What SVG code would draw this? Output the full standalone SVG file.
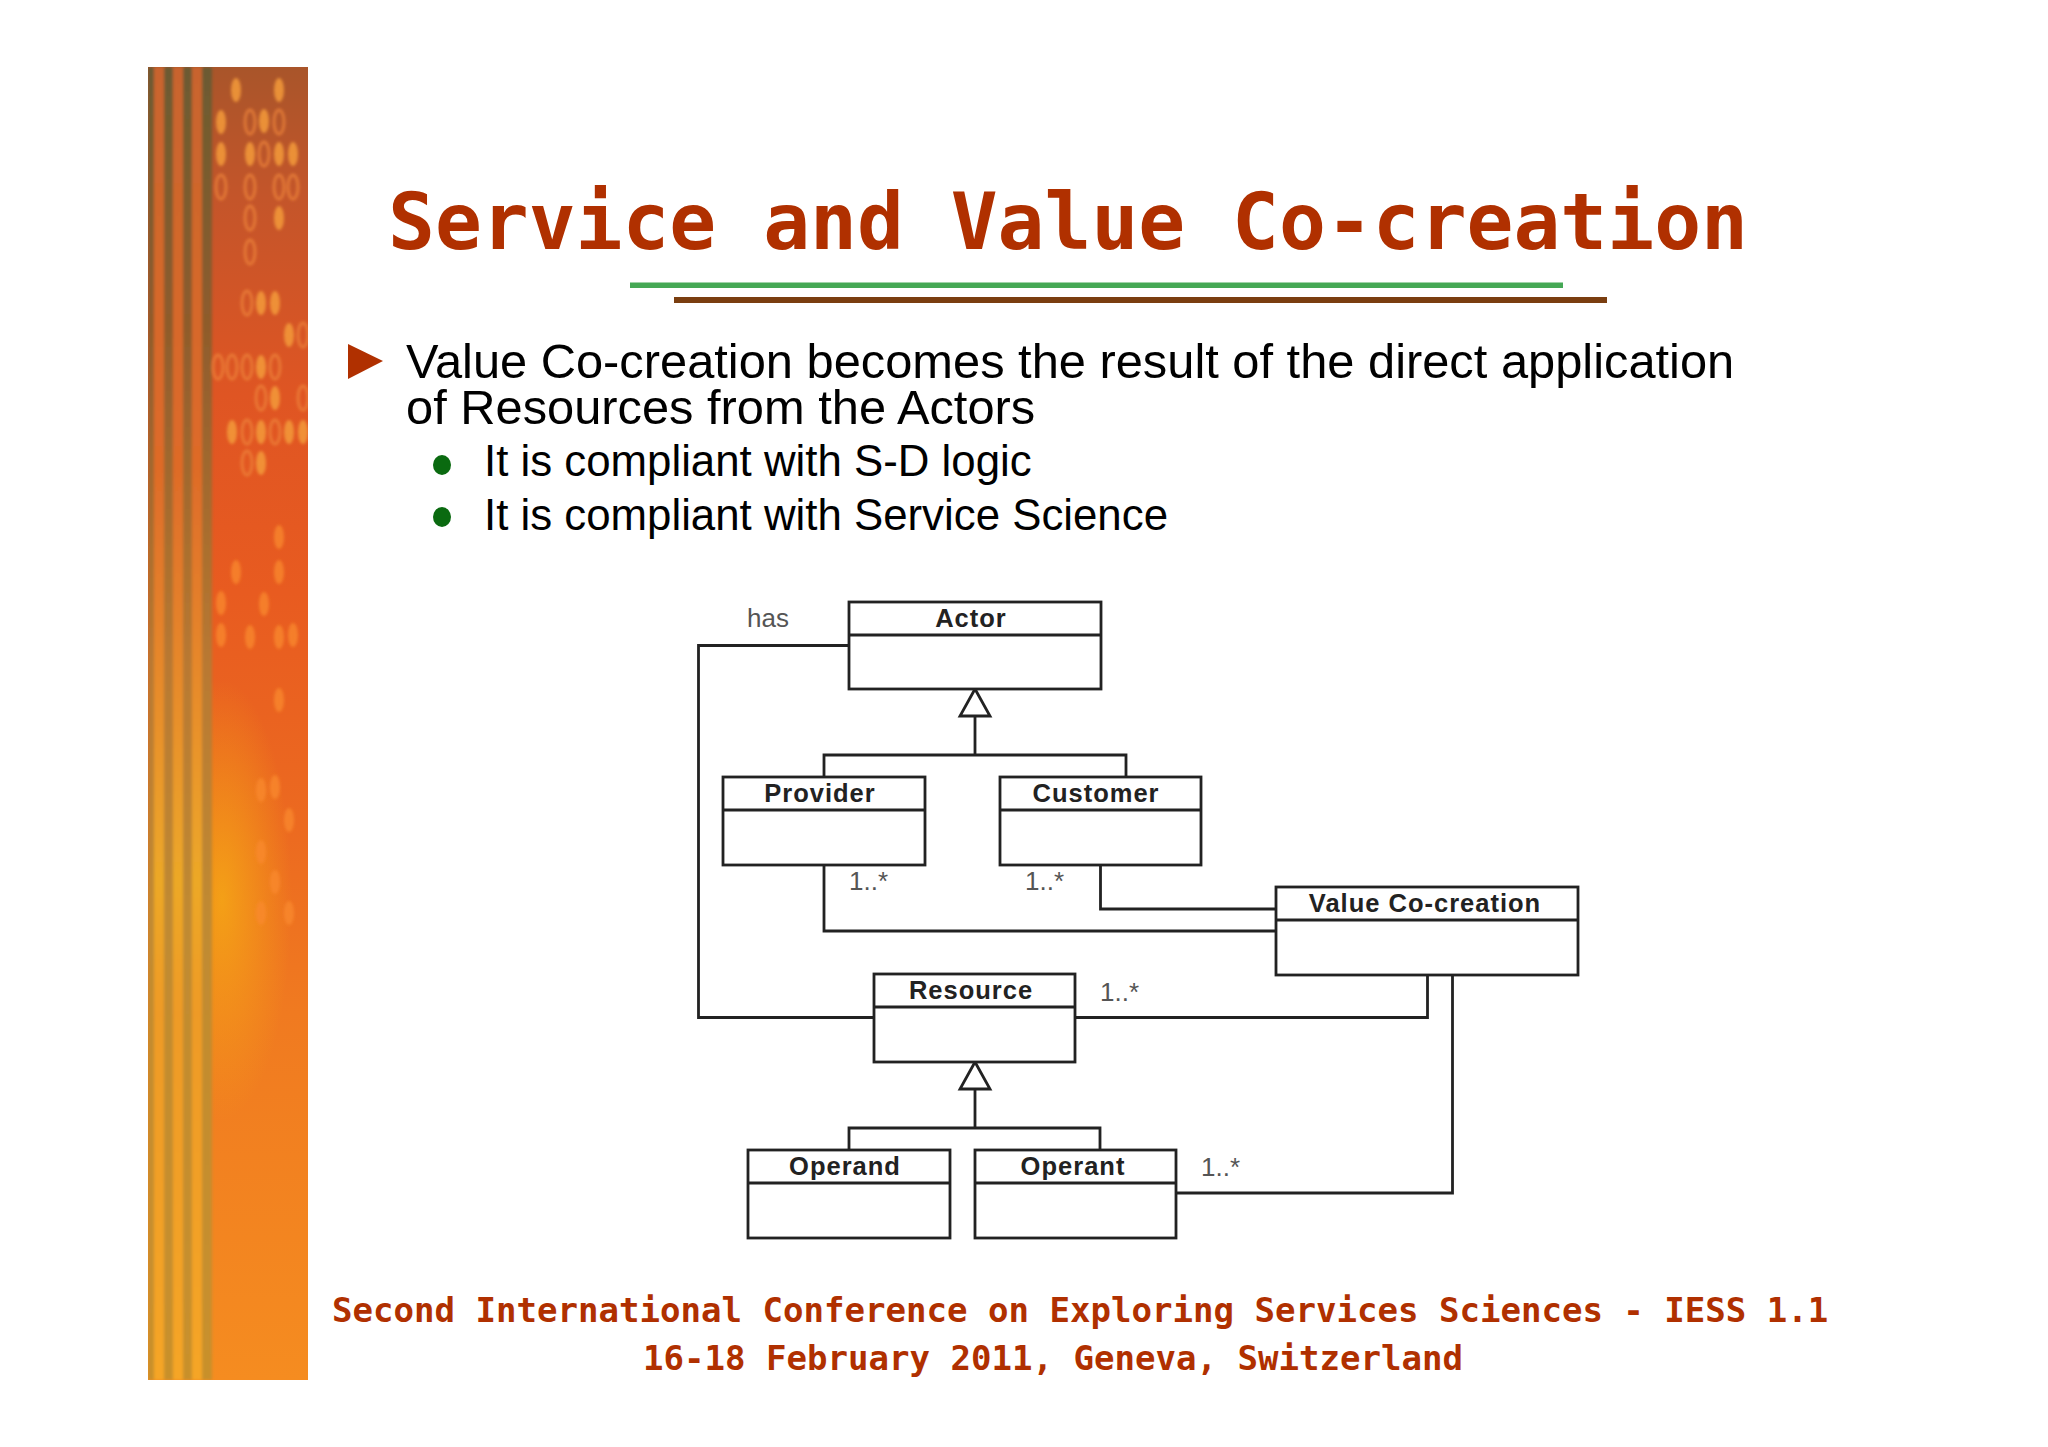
<svg xmlns="http://www.w3.org/2000/svg" width="2048" height="1447" viewBox="0 0 2048 1447">
<style>
.t{font-family:"DejaVu Sans Mono",monospace;font-weight:bold;fill:#b03000}
.b{font-family:"Liberation Sans",Arial,sans-serif;fill:#000}
.n{fill:#fff;stroke:#222;stroke-width:2.8}
.c{fill:none;stroke:#222;stroke-width:2.8}
.h{font-family:"Liberation Sans",Arial,sans-serif;font-weight:bold;font-size:25.5px;letter-spacing:1px;fill:#222;text-anchor:middle}
.m{font-family:"Liberation Sans",Arial,sans-serif;font-size:26px;fill:#555}
.d{fill:#f39a3a;opacity:.85}
.r{fill:none;stroke:#f0863a;stroke-width:3;opacity:.7}
.f{fill:#f98a2c;opacity:.75}
</style>
<defs>
<linearGradient id="g" x1="0" y1="0" x2="0" y2="1">
<stop offset="0" stop-color="#a9552a"/><stop offset=".1" stop-color="#c4552a"/><stop offset=".25" stop-color="#df5523"/><stop offset=".4" stop-color="#e85b20"/><stop offset=".58" stop-color="#ec6a20"/><stop offset=".72" stop-color="#f07a20"/><stop offset="1" stop-color="#f58c20"/>
</linearGradient>
<linearGradient id="s" x1="0" y1="0" x2="0" y2="1">
<stop offset="0" stop-color="#6b5a30"/><stop offset=".2" stop-color="#8f5c2c"/><stop offset=".45" stop-color="#b87830"/><stop offset=".65" stop-color="#c08a30"/><stop offset="1" stop-color="#c8902c"/>
</linearGradient>
<linearGradient id="s2" x1="0" y1="0" x2="0" y2="1">
<stop offset="0" stop-color="#c8642e"/><stop offset=".3" stop-color="#de6a28"/><stop offset=".5" stop-color="#e8902a"/><stop offset=".62" stop-color="#eca828"/><stop offset=".72" stop-color="#ee9a28"/><stop offset="1" stop-color="#f5a525"/>
</linearGradient>
<radialGradient id="y"><stop offset="0" stop-color="#f5a815" stop-opacity=".85"/><stop offset="1" stop-color="#f5a815" stop-opacity="0"/></radialGradient>
<clipPath id="cp"><rect x="148" y="67" width="160" height="1313"/></clipPath>
<filter id="bl"><feGaussianBlur stdDeviation="1.4"/></filter>
</defs>
<rect width="2048" height="1447" fill="#fff"/>
<g id="sidebar" clip-path="url(#cp)">
<rect x="148" y="67" width="160" height="1313" fill="url(#g)"/>
<ellipse cx="222" cy="900" rx="70" ry="220" fill="url(#y)"/>
<g filter="url(#bl)">
<rect x="148" y="67" width="64" height="1313" fill="url(#s2)"/>
<rect x="148" y="67" width="6" height="1313" fill="url(#s)"/>
<rect x="164" y="67" width="9" height="1313" fill="url(#s)"/>
<rect x="183" y="67" width="9" height="1313" fill="url(#s)"/>
<rect x="202" y="67" width="10" height="1313" fill="url(#s)"/>
</g>
<g filter="url(#bl)">
<ellipse class="d" cx="236" cy="90" rx="5" ry="12"/><ellipse class="d" cx="279" cy="90" rx="5" ry="12"/>
<ellipse class="d" cx="221" cy="122" rx="5" ry="12"/><ellipse class="d" cx="264" cy="121" rx="5" ry="12"/>
<ellipse class="d" cx="221" cy="154" rx="5" ry="12"/><ellipse class="d" cx="250" cy="154" rx="5" ry="12"/><ellipse class="d" cx="279" cy="154" rx="5" ry="12"/><ellipse class="d" cx="293" cy="154" rx="5" ry="12"/>
<ellipse class="d" cx="279" cy="218" rx="5" ry="12"/>
<ellipse class="d" cx="261" cy="303" rx="5" ry="12"/><ellipse class="d" cx="275" cy="303" rx="5" ry="12"/>
<ellipse class="d" cx="289" cy="335" rx="5" ry="12"/>
<ellipse class="d" cx="261" cy="367" rx="5" ry="12"/><ellipse class="d" cx="275" cy="398" rx="5" ry="12"/>
<ellipse class="d" cx="232" cy="432" rx="5" ry="12"/><ellipse class="d" cx="261" cy="432" rx="5" ry="12"/><ellipse class="d" cx="289" cy="432" rx="5" ry="12"/><ellipse class="d" cx="303" cy="432" rx="5" ry="12"/>
<ellipse class="d" cx="261" cy="463" rx="5" ry="12"/>
<ellipse class="r" cx="250" cy="122" rx="5" ry="12"/><ellipse class="r" cx="279" cy="122" rx="5" ry="12"/><ellipse class="r" cx="264" cy="154" rx="5" ry="12"/>
<ellipse class="r" cx="221" cy="187" rx="5" ry="12"/><ellipse class="r" cx="250" cy="187" rx="5" ry="12"/><ellipse class="r" cx="279" cy="187" rx="5" ry="12"/><ellipse class="r" cx="293" cy="187" rx="5" ry="12"/>
<ellipse class="r" cx="250" cy="218" rx="5" ry="12"/><ellipse class="r" cx="250" cy="252" rx="5" ry="12"/>
<ellipse class="r" cx="247" cy="303" rx="5" ry="12"/><ellipse class="r" cx="303" cy="335" rx="5" ry="12"/>
<ellipse class="r" cx="218" cy="367" rx="5" ry="12"/><ellipse class="r" cx="232" cy="367" rx="5" ry="12"/><ellipse class="r" cx="247" cy="367" rx="5" ry="12"/><ellipse class="r" cx="275" cy="367" rx="5" ry="12"/>
<ellipse class="r" cx="261" cy="398" rx="5" ry="12"/><ellipse class="r" cx="303" cy="398" rx="5" ry="12"/>
<ellipse class="r" cx="247" cy="432" rx="5" ry="12"/><ellipse class="r" cx="275" cy="432" rx="5" ry="12"/><ellipse class="r" cx="247" cy="463" rx="5" ry="12"/>
<ellipse class="f" cx="279" cy="537" rx="5" ry="12"/><ellipse class="f" cx="236" cy="572" rx="5" ry="12"/><ellipse class="f" cx="279" cy="572" rx="5" ry="12"/>
<ellipse class="f" cx="221" cy="603" rx="5" ry="12"/><ellipse class="f" cx="264" cy="604" rx="5" ry="12"/>
<ellipse class="f" cx="221" cy="635" rx="5" ry="12"/><ellipse class="f" cx="250" cy="637" rx="5" ry="12"/><ellipse class="f" cx="279" cy="637" rx="5" ry="12"/><ellipse class="f" cx="293" cy="635" rx="5" ry="12"/>
<ellipse class="f" cx="279" cy="700" rx="5" ry="12"/><ellipse class="f" cx="261" cy="790" rx="5" ry="12"/><ellipse class="f" cx="275" cy="787" rx="5" ry="12"/>
<ellipse class="f" cx="289" cy="820" rx="5" ry="12"/><ellipse class="f" cx="261" cy="852" rx="5" ry="12"/><ellipse class="f" cx="275" cy="882" rx="5" ry="12"/>
<ellipse class="f" cx="289" cy="913" rx="5" ry="12"/><ellipse class="f" cx="261" cy="913" rx="5" ry="12"/>
</g>
</g>
<g id="title">
<text class="t" x="388" y="249" font-size="77.9">Service and Value Co-creation</text>
<rect x="630" y="282.500" width="933" height="5.500" fill="#45a855"/>
<rect x="674" y="297" width="933" height="6" fill="#7a3e10"/>
</g>
<g id="body">
<polygon points="348,344 383,361 348,379" fill="#b03000"/>
<text class="b" x="406" y="378" font-size="48.800">Value Co-creation becomes the result of the direct application</text>
<text class="b" x="406" y="424" font-size="48.800">of Resources from the Actors</text>
<ellipse cx="442" cy="465" rx="9" ry="10" fill="#0a6a10"/>
<text class="b" x="484" y="476" font-size="43.800">It is compliant with S-D logic</text>
<ellipse cx="442" cy="517" rx="9" ry="10" fill="#0a6a10"/>
<text class="b" x="484" y="530" font-size="43.800">It is compliant with Service Science</text>
</g>
<g id="connectors">
<polyline class="c" points="848,645.500 698.500,645.500 698.500,1017.500 874,1017.500"/>
<polyline class="c" points="975,716 975,755"/>
<polyline class="c" points="824,777 824,755 1126,755 1126,777"/>
<polygon class="n" points="975,689 960,716 990,716"/>
<polyline class="c" points="824,865 824,931 1276,931"/>
<polyline class="c" points="1100.500,865 1100.500,909 1276,909"/>
<polyline class="c" points="1075,1017.500 1427.500,1017.500 1427.500,974"/>
<polyline class="c" points="975,1089 975,1128"/>
<polyline class="c" points="849,1150 849,1128 1100,1128 1100,1150"/>
<polygon class="n" points="975,1062 960,1089 990,1089"/>
<polyline class="c" points="1176,1193 1452.500,1193 1452.500,974"/>
<text class="m" x="747" y="627" font-size="27">has</text>
<text class="m" x="849" y="890">1..*</text>
<text class="m" x="1025" y="890">1..*</text>
<text class="m" x="1100" y="1001">1..*</text>
<text class="m" x="1201" y="1176">1..*</text>
</g>
<g id="actor"><rect class="n" x="849" y="602" width="252" height="87"/><line class="c" x1="849" y1="635" x2="1101" y2="635"/><text class="h" x="971" y="627">Actor</text></g>
<g id="provider"><rect class="n" x="723" y="777" width="202" height="88"/><line class="c" x1="723" y1="810" x2="925" y2="810"/><text class="h" x="820" y="802">Provider</text></g>
<g id="customer"><rect class="n" x="1000" y="777" width="201" height="88"/><line class="c" x1="1000" y1="810" x2="1201" y2="810"/><text class="h" x="1096" y="802">Customer</text></g>
<g id="value"><rect class="n" x="1276" y="887" width="302" height="88"/><line class="c" x1="1276" y1="920" x2="1578" y2="920"/><text class="h" x="1425" y="912">Value Co-creation</text></g>
<g id="resource"><rect class="n" x="874" y="974" width="201" height="88"/><line class="c" x1="874" y1="1007" x2="1075" y2="1007"/><text class="h" x="971" y="999">Resource</text></g>
<g id="operand"><rect class="n" x="748" y="1150" width="202" height="88"/><line class="c" x1="748" y1="1183" x2="950" y2="1183"/><text class="h" x="845" y="1175">Operand</text></g>
<g id="operant"><rect class="n" x="975" y="1150" width="201" height="88"/><line class="c" x1="975" y1="1183" x2="1176" y2="1183"/><text class="h" x="1073" y="1175">Operant</text></g>
<g id="footer">
<text class="t" x="332" y="1322" font-size="34.050">Second International Conference on Exploring Services Sciences - IESS 1.1</text>
<text class="t" x="643" y="1370" font-size="34.050">16-18 February 2011, Geneva, Switzerland</text>
</g>
</svg>
